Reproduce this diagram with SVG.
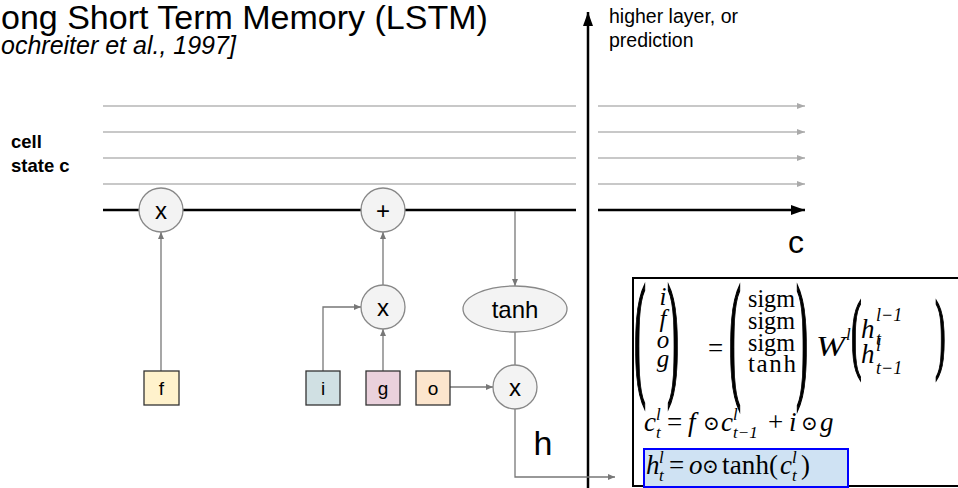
<svg xmlns="http://www.w3.org/2000/svg" width="958" height="488" viewBox="0 0 958 488">
  <style>
    .sans { font-family: "Liberation Sans", Arial, sans-serif; fill: #000; }
    .node { fill: #f3f3f3; stroke: #888; stroke-width: 1.3; }
    .gate { stroke: #333; stroke-width: 1.3; }
    .lbl { font-family: "Liberation Sans", Arial, sans-serif; font-size: 24px; text-anchor: middle; fill: #000; }
    .glbl { font-family: "Liberation Sans", Arial, sans-serif; font-size: 19px; text-anchor: middle; fill: #000; }
    .wire { fill: none; stroke: #777; stroke-width: 1.3; }
    .rail { fill: none; stroke: #c8c8c8; stroke-width: 2; }
    .main { fill: none; stroke: #000; stroke-width: 2.5; }
    .m { font-family: "Liberation Serif", "DejaVu Serif", serif; fill: #000; }
    .mi { font-family: "Liberation Serif", "DejaVu Serif", serif; font-style: italic; fill: #000; }
    .od { font-family: "DejaVu Serif", "DejaVu Sans", serif; fill: #000; }
    .paren { font-family: "Liberation Serif", "DejaVu Serif", serif; fill: #000; stroke: #000; stroke-width: 0.7; }
  </style>
  <defs>
    <marker id="arr" markerUnits="userSpaceOnUse" markerWidth="7" markerHeight="6" refX="7" refY="3" orient="auto">
      <path d="M0,0 L7,3 L0,6 z" fill="#777"/>
    </marker>
    <marker id="arrLight" markerUnits="userSpaceOnUse" markerWidth="8" markerHeight="6" refX="8" refY="3" orient="auto">
      <path d="M0,0 L8,3 L0,6 z" fill="#aaa"/>
    </marker>
    <marker id="arrBlack" markerUnits="userSpaceOnUse" markerWidth="14" markerHeight="10" refX="14" refY="5" orient="auto">
      <path d="M0,0 L14,5 L0,10 z" fill="#000"/>
    </marker>
  </defs>

  <rect width="958" height="488" fill="#fff"/>

  <!-- headings -->
  <text class="sans" x="1" y="29" font-size="34">ong Short Term Memory (LSTM)</text>
  <text class="sans" x="1" y="54" font-size="25" font-style="italic">ochreiter et al., 1997]</text>
  <text class="sans" x="609" y="23" font-size="19.5">higher layer, or</text>
  <text class="sans" x="609" y="47" font-size="19.5">prediction</text>
  <text class="sans" x="11" y="148" font-size="18.5" font-weight="bold">cell</text>
  <text class="sans" x="11" y="172" font-size="18.5" font-weight="bold">state c</text>
  <text class="sans" x="796" y="253" font-size="32" text-anchor="middle">c</text>
  <text class="sans" x="543" y="455" font-size="34" text-anchor="middle">h</text>

  <!-- connectors -->
  <g id="connectors">
    <path class="rail" d="M103 106 H576"/>
    <path class="rail" d="M103 132 H576"/>
    <path class="rail" d="M103 158 H576"/>
    <path class="rail" d="M103 184 H576"/>
    <path class="rail" d="M598 106 H805" marker-end="url(#arrLight)"/>
    <path class="rail" d="M598 132 H805" marker-end="url(#arrLight)"/>
    <path class="rail" d="M598 158 H805" marker-end="url(#arrLight)"/>
    <path class="rail" d="M598 184 H805" marker-end="url(#arrLight)"/>
    <path class="main" d="M103 210 H576"/>
    <path class="main" d="M598 210 H805" marker-end="url(#arrBlack)"/>
    <path d="M588 488 V12" fill="none" stroke="#000" stroke-width="2.5" marker-end="url(#arrBlack)"/>
    <path class="wire" d="M161 371 V232" marker-end="url(#arr)"/>
    <path class="wire" d="M323 371 V307 H361" marker-end="url(#arr)"/>
    <path class="wire" d="M383 371 V329" marker-end="url(#arr)"/>
    <path class="wire" d="M383 285 V232" marker-end="url(#arr)"/>
    <path class="wire" d="M515 211 V286" marker-end="url(#arr)"/>
    <path class="wire" d="M515 332 V365"/>
    <path class="wire" d="M450 387 H493" marker-end="url(#arr)"/>
    <path class="wire" d="M515 409 V477 H615" marker-end="url(#arr)"/>
  </g>

  <!-- pointwise operations -->
  <g id="forget-mul">
    <circle class="node" cx="161" cy="210" r="22"/>
    <text class="lbl" x="161" y="219">x</text>
  </g>
  <g id="cell-add">
    <circle class="node" cx="383" cy="210" r="22"/>
    <text class="lbl" x="383" y="219">+</text>
  </g>
  <g id="input-mul">
    <circle class="node" cx="383" cy="307" r="22"/>
    <text class="lbl" x="383" y="316">x</text>
  </g>
  <g id="tanh">
    <ellipse class="node" cx="515" cy="309" rx="52" ry="23"/>
    <text class="lbl" x="515" y="318">tanh</text>
  </g>
  <g id="output-mul">
    <circle class="node" cx="515" cy="387" r="22"/>
    <text class="lbl" x="515" y="396">x</text>
  </g>

  <!-- gates -->
  <g id="gate-f">
    <rect class="gate" x="144" y="371" width="35" height="34" fill="#fff2cc"/>
    <text class="glbl" x="161.5" y="395">f</text>
  </g>
  <g id="gate-i">
    <rect class="gate" x="306" y="371" width="34" height="34" fill="#d0e0e3"/>
    <text class="glbl" x="323" y="395">i</text>
  </g>
  <g id="gate-g">
    <rect class="gate" x="366" y="371" width="34" height="34" fill="#ead1dc"/>
    <text class="glbl" x="383" y="395">g</text>
  </g>
  <g id="gate-o">
    <rect class="gate" x="416" y="371" width="34" height="34" fill="#fce5cd"/>
    <text class="glbl" x="433" y="395">o</text>
  </g>

  <!-- equations panel -->
  <g id="equations">
    <rect x="633" y="278" width="330" height="208" fill="#fff" stroke="#000" stroke-width="2"/>
    <rect x="644" y="449" width="204" height="38" fill="#cfe2f3" stroke="#0000ff" stroke-width="2"/>

    <!-- (i f o g) -->
    <text class="paren" font-size="36" transform="matrix(1,0,0,3.8,634,380)">(</text>
    <text class="mi" font-size="25" x="663" y="305" text-anchor="middle">i</text>
    <text class="mi" font-size="25" x="663" y="327" text-anchor="middle">f</text>
    <text class="mi" font-size="25" x="663" y="348" text-anchor="middle">o</text>
    <text class="mi" font-size="25" x="663" y="367" text-anchor="middle">g</text>
    <text class="paren" font-size="36" transform="matrix(1,0,0,3.8,667,380)">)</text>

    <text class="m" font-size="27" x="708" y="357">=</text>

    <!-- activation column -->
    <text class="paren" font-size="36" transform="matrix(1,0,0,3.9,729,382)">(</text>
    <text class="m" font-size="25" x="748" y="307" textLength="47" lengthAdjust="spacingAndGlyphs">sigm</text>
    <text class="m" font-size="25" x="748" y="329" textLength="47" lengthAdjust="spacingAndGlyphs">sigm</text>
    <text class="m" font-size="25" x="748" y="351" textLength="47" lengthAdjust="spacingAndGlyphs">sigm</text>
    <text class="m" font-size="25" x="748" y="372" textLength="48" lengthAdjust="spacing">tanh</text>
    <text class="paren" font-size="36" transform="matrix(1,0,0,3.9,796,382)">)</text>

    <text class="mi" font-size="29" x="816" y="356" textLength="29" lengthAdjust="spacingAndGlyphs">W</text>
    <text class="mi" font-size="17" x="846" y="340">l</text>

    <!-- (h_t^{l-1}; h_{t-1}^l) -->
    <text class="paren" font-size="32" transform="matrix(1,0,0,2.75,851,362)">(</text>
    <text class="mi" font-size="27" x="861" y="338">h</text>
    <text class="mi" font-size="18" x="876" y="321">l<tspan class="m">−1</tspan></text>
    <text class="mi" font-size="18" x="876" y="345">t</text>
    <text class="mi" font-size="27" x="861" y="363">h</text>
    <text class="mi" font-size="18" x="876" y="351">l</text>
    <text class="mi" font-size="18" x="876" y="374">t<tspan class="m">−1</tspan></text>
    <text class="paren" font-size="32" transform="matrix(1,0,0,2.75,935,362)">)</text>

    <!-- c_t^l = f . c_{t-1}^l + i . g -->
    <text class="mi" font-size="27" x="644" y="431">c</text>
    <text class="mi" font-size="17" x="656" y="420">l</text>
    <text class="mi" font-size="17" x="656" y="438">t</text>
    <text class="m" font-size="27" x="667" y="431">=</text>
    <text class="mi" font-size="27" x="688" y="431">f</text>
    <text class="od" font-size="20" x="703" y="430">⊙</text>
    <text class="mi" font-size="27" x="721" y="431">c</text>
    <text class="mi" font-size="17" x="733" y="420">l</text>
    <text class="mi" font-size="17" x="733" y="438">t<tspan class="m">−1</tspan></text>
    <text class="m" font-size="27" x="768" y="431">+</text>
    <text class="mi" font-size="27" x="789" y="431">i</text>
    <text class="od" font-size="20" x="801" y="430">⊙</text>
    <text class="mi" font-size="27" x="820" y="431">g</text>

    <!-- h_t^l = o . tanh(c_t^l) -->
    <text class="mi" font-size="27" x="646" y="474">h</text>
    <text class="mi" font-size="17" x="659" y="463">l</text>
    <text class="mi" font-size="17" x="659" y="481">t</text>
    <text class="m" font-size="27" x="669" y="474">=</text>
    <text class="mi" font-size="27" x="689" y="474">o</text>
    <text class="od" font-size="20" x="702" y="473">⊙</text>
    <text class="m" font-size="27" x="722" y="474" textLength="56" lengthAdjust="spacing">tanh(</text>
    <text class="mi" font-size="27" x="780" y="474">c</text>
    <text class="mi" font-size="17" x="792" y="463">l</text>
    <text class="mi" font-size="17" x="792" y="481">t</text>
    <text class="m" font-size="27" x="801" y="474">)</text>
  </g>
</svg>
